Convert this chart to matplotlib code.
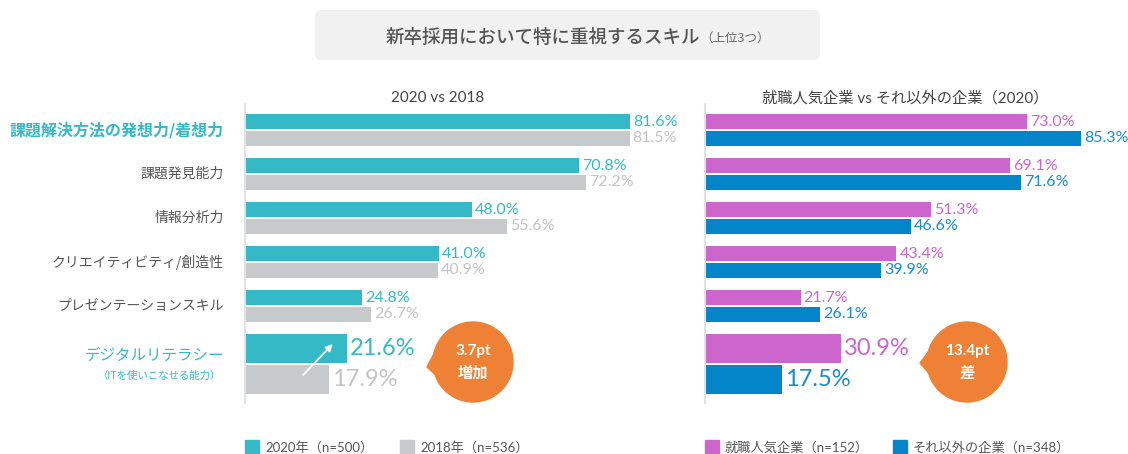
import matplotlib
matplotlib.use('Agg')
import matplotlib.pyplot as plt
from matplotlib.patches import FancyBboxPatch, Circle, Polygon, Rectangle

# ---------------- data ----------------
categories = ['課題解決方法の発想力/着想力', '課題発見能力', '情報分析力',
              'クリエイティビティ/創造性', 'プレゼンテーションスキル', 'デジタルリテラシー']
sub_note = '（ITを使いこなせる能力）'
v2020 = [81.6, 70.8, 48.0, 41.0, 24.8, 21.6]
v2018 = [81.5, 72.2, 55.6, 40.9, 26.7, 17.9]
popular = [73.0, 69.1, 51.3, 43.4, 21.7, 30.9]
others = [85.3, 71.6, 46.6, 39.9, 26.1, 17.5]
legend_left = ['2020年（n=500）', '2018年（n=536）']
legend_right = ['就職人気企業（n=152）', 'それ以外の企業（n=348）']
title_main = '新卒採用において特に重視するスキル'
title_sub = '（上位3つ）'
subtitle_left = '2020 vs 2018'
subtitle_right = '就職人気企業 vs それ以外の企業（2020）'
bubble_left = ['3.7pt', '増加']
bubble_right = ['13.4pt', '差']

# ---------------- style ----------------
plt.rcParams['font.family'] = ['Lato', 'Noto Sans CJK JP', 'DejaVu Sans']
JP = ['Noto Sans CJK JP', 'DejaVu Sans']
TEAL = '#36b9c6'
GRAY = '#c8c9cb'
GRAY_T = '#c3c4c6'
MAG = '#cc66cc'
BLUE = '#0585c9'
BLUE_T = '#1a8bd0'
ORANGE = '#ee8135'
LABEL = '#555555'

W, H = 1128, 454
fig = plt.figure(figsize=(W / 100, H / 100), dpi=100)
fig.patch.set_facecolor('white')

TOP, BOT = 104, 403

def make_ax(left_px, width_px, scale):
    ax = fig.add_axes([left_px / W, 1 - BOT / H, width_px / W, (BOT - TOP) / H])
    ax.set_xlim(0, width_px / scale)
    ax.set_ylim(BOT, TOP)
    for s in ['top', 'right', 'bottom']:
        ax.spines[s].set_visible(False)
    ax.spines['left'].set_color('#e2e2e2')
    ax.spines['left'].set_linewidth(1.5)
    ax.set_xticks([])
    ax.set_yticks([])
    ax.patch.set_alpha(0)
    return ax

axL = make_ax(245, 455, 4.72)
axR = make_ax(705, 423, 4.41)

# row geometry (layout)
n = len(categories)
centers = [130 + 44 * i for i in range(n - 1)] + [364]
offs = [8.5] * (n - 1) + [15.5]
hts = [15] * (n - 1) + [29]

def draw_pairs(ax, a, b, ca, cb, ta, tb):
    ya = [c - o for c, o in zip(centers, offs)]
    yb = [c + o for c, o in zip(centers, offs)]
    ax.barh(ya, a, height=hts, color=ca, zorder=2)
    ax.barh(yb, b, height=hts, color=cb, zorder=2)
    for i in range(n):
        fs = 17 if i == n - 1 else 11.5
        ax.annotate(f'{a[i]:.1f}%', xy=(a[i], ya[i]), xytext=(3, 0),
                    textcoords='offset pixels', ha='left', va='center',
                    color=ta, fontsize=fs)
        ax.annotate(f'{b[i]:.1f}%', xy=(b[i], yb[i]), xytext=(3, 0),
                    textcoords='offset pixels', ha='left', va='center',
                    color=tb, fontsize=fs)

draw_pairs(axL, v2020, v2018, TEAL, GRAY, TEAL, GRAY_T)
draw_pairs(axR, popular, others, MAG, BLUE, MAG, BLUE_T)

# category labels
for i, cat in enumerate(categories):
    if i == 0:
        axL.annotate(cat, xy=(0, centers[i]), xytext=(-21, 0), textcoords='offset pixels',
                     ha='right', va='center', fontsize=11.5, color=TEAL,
                     fontweight='bold', family=JP)
    elif i == n - 1:
        axL.annotate(cat, xy=(0, centers[i]), xytext=(-21, 9), textcoords='offset pixels',
                     ha='right', va='center', fontsize=11.2, color=TEAL, family=JP)
        axL.annotate(sub_note, xy=(0, centers[i]), xytext=(-24, -12),
                     textcoords='offset pixels', ha='right', va='center',
                     fontsize=7.5, color=TEAL, family=JP)
    else:
        axL.annotate(cat, xy=(0, centers[i]), xytext=(-21, 0), textcoords='offset pixels',
                     ha='right', va='center', fontsize=10, color=LABEL, family=JP)

# arrow on the digital literacy bars
axL.annotate('', xy=(18.6, 344), xytext=(12.3, 375),
             arrowprops=dict(arrowstyle='-|>', color='white', lw=1.3,
                             mutation_scale=10, shrinkA=0, shrinkB=0), zorder=5)

# ---------------- overlay in pixel coords ----------------
ov = fig.add_axes([0, 0, 1, 1], zorder=-1)
ov.set_xlim(0, W)
ov.set_ylim(H, 0)
ov.axis('off')

ov.add_patch(FancyBboxPatch((315, 10), 505, 50,
                            boxstyle='round,pad=0,rounding_size=6',
                            fc='#f1f1f1', ec='none'))
ov.text(700, 43, title_main, ha='right', va='baseline', fontsize=13.3,
        color='#555555', family=JP, fontweight='medium')
ov.text(700, 42, title_sub, ha='left', va='baseline', fontsize=9,
        color='#666666', family=JP)

ov.text(438, 98, subtitle_left, ha='center', va='center', fontsize=11,
        color='#444444')
ov.text(905, 98, subtitle_right, ha='center', va='center', fontsize=11,
        color='#444444', family=['Lato', 'Noto Sans CJK JP'])

# bubbles
for (cx, cy, tip, lines) in [(473, 362, (427, 367), bubble_left),
                             (967, 362, (920, 363), bubble_right)]:
    ov.add_patch(Circle((cx, cy), 40, color=ORANGE, zorder=3))
    ov.add_patch(Polygon([tip, (cx - 36, cy - 14), (cx - 34, cy + 16)],
                         closed=True, color=ORANGE, zorder=3))
    ov.text(cx, cy - 11, lines[0], ha='center', va='center', fontsize=11,
            color='white', fontweight='bold', zorder=4)
    ov.text(cx, cy + 11, lines[1], ha='center', va='center', fontsize=11,
            color='white', fontweight='bold', family=JP, zorder=4)

# legends
def legend_item(x, color, label):
    ov.add_patch(Rectangle((x, 440), 14, 14, color=color))
    ov.text(x + 20, 447, label, ha='left', va='center', fontsize=9.5,
            color=LABEL, family=['Lato', 'Noto Sans CJK JP'])

legend_item(245, TEAL, legend_left[0])
legend_item(400, GRAY, legend_left[1])
legend_item(705, MAG, legend_right[0])
legend_item(893, BLUE, legend_right[1])

fig.savefig('out.png', dpi=100, facecolor='white')
